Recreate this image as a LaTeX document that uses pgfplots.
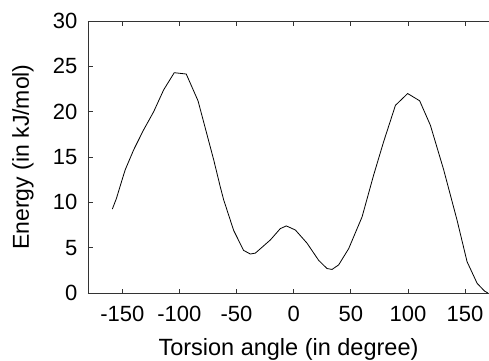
\documentclass[border=0pt]{standalone}
\usepackage{pgfplots}
\pgfplotsset{compat=1.18}
\usepackage{fontspec}
\setmainfont{Liberation Sans}
\begin{document}
\fontsize{22}{26}\selectfont
\begin{tikzpicture}
\useasboundingbox (-88pt,-67pt) rectangle (401pt,293pt);
\begin{axis}[
  scale only axis,
  width=401pt, height=272pt,
  xmin=-180, xmax=171, ymin=0, ymax=30,
  axis x line*=box, axis y line*=left,
  xtick={-150,-100,-50,0,50,100,150},
  ytick={0,5,10,15,20,25,30},
  tick align=inside,
  major tick length=4.5pt,
  every tick/.style={black!80, line width=0.7pt},
  axis line style={black!80, line width=0.8pt},
  /pgf/number format/assume math mode=true,
  tick label style={font=\fontsize{22}{26}\selectfont},
  xticklabel style={yshift=-6pt},
  yticklabel style={xshift=-3pt},
  xlabel={Torsion angle (in degree)},
  ylabel={Energy (in kJ/mol)},
  every axis x label/.style={at={(rel axis cs:0.5,0)}, anchor=base, yshift=-62pt, font=\fontsize{23.5}{28}\selectfont},
  every axis y label/.style={at={(rel axis cs:0,0.5)}, xshift=-59pt, rotate=90, anchor=base, font=\fontsize{23}{28}\selectfont},
  clip=false,
]
\addplot[black, line width=0.8pt] coordinates {
(-158.7,9.26) (-155.2,10.4) (-149.4,12.8) (-147.4,13.6) (-140,15.8)
(-131.3,18.0) (-122.5,20.0) (-113.8,22.4) (-104.5,24.3) (-94,24.15)
(-83.7,21.2) (-70,14.7) (-64.2,11.7) (-61.3,10.3) (-52.5,6.9)
(-43.8,4.7) (-37.9,4.3) (-33.5,4.4) (-20.4,5.85) (-11.7,7.1)
(-6.4,7.4) (1.5,6.95) (11.7,5.5) (21.9,3.6) (29.2,2.7) (33.6,2.6)
(39.4,3.1) (48.2,4.9) (59.9,8.4) (70,13.0) (78.8,16.7) (89.1,20.7)
(99.8,22.0) (110.3,21.2) (119.7,18.5) (131.3,13.6) (143,8.05)
(151.8,3.45) (160.6,1.07) (167,0.22) (170,0)
};
\end{axis}
\end{tikzpicture}
\end{document}
